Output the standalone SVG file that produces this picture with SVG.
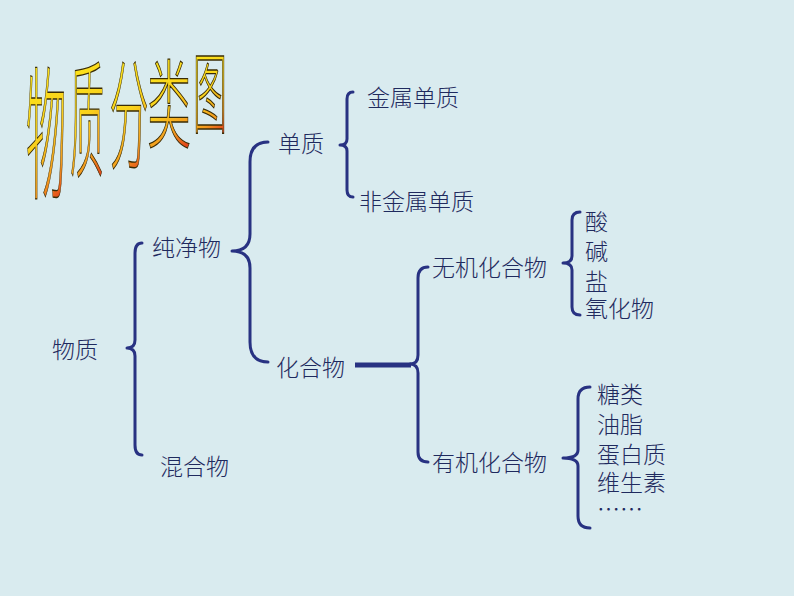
<svg xmlns="http://www.w3.org/2000/svg" width="794" height="596" viewBox="0 0 794 596">
<defs>
<linearGradient id="wa" x1="0" y1="0" x2="0.25" y2="1">
<stop offset="0" stop-color="#FFF21A"/>
<stop offset="0.6" stop-color="#F9D21C"/>
<stop offset="0.85" stop-color="#F39A1E"/>
<stop offset="1" stop-color="#E2441A"/>
</linearGradient>
<style>
.t{font-family:"Noto Sans CJK SC","Noto Sans CJK TC",sans-serif;font-size:23px;font-weight:300;fill:#1F2A5E;}
.w{font-family:"Noto Sans CJK SC",sans-serif;font-size:100px;font-weight:300;fill:url(#wa);stroke:#3A2C05;stroke-width:1;vector-effect:non-scaling-stroke;text-anchor:middle;}
.b{fill:none;stroke:#283282;stroke-width:3;stroke-linecap:round;stroke-linejoin:round;}
</style>
</defs>
<rect width="794" height="596" fill="#D9EBEF"/>
<g id="title">
<text class="w" transform="translate(46,188) scale(0.40,1.44)">物</text>
<text class="w" transform="translate(87,168) scale(0.34,1.28)">质</text>
<text class="w" transform="translate(129,160) scale(0.39,1.20)">分</text>
<text class="w" transform="translate(169,140) scale(0.44,0.97)">类</text>
<text class="w" transform="translate(210,126) scale(0.34,0.89)">图</text>
</g>
<g id="connectors">
<path class="b" d="M142,243 Q135,243 135,253 L135,340 Q135,348 127,348 Q135,348 135,356 L135,445 Q135,455 142,455"/>
<path class="b" d="M268,142 Q250,142 250,162 L250,234 Q250,251 232,251 Q250,251 250,268 L250,342 Q250,362 268,362"/>
<path class="b" d="M353,92 Q347,92 347,99 L347,139 Q347,145 340,145 Q347,145 347,151 L347,190 Q347,197 353,197"/>
<path class="b" style="stroke-width:5;stroke-linecap:butt" d="M355,365 L411,365"/>
<path class="b" d="M428,267 Q418,267 418,278 L418,355 Q418,364 410,364 Q418,364 418,373 L418,452 Q418,462 428,462"/>
<path class="b" d="M580,212 Q572,212 572,220 L572,256 Q572,263 563,263 Q572,263 572,270 L572,307 Q572,315 580,315"/>
<path class="b" d="M590,387 Q578,387 578,399 L578,450 Q578,458 563,458 Q578,458 578,466 L578,516 Q578,528 590,528"/>
</g>
<g id="n-wuzhi"><text class="t" x="52" y="358">物质</text></g>
<g id="n-chunjingwu"><text class="t" x="152" y="256">纯净物</text></g>
<g id="n-hunhewu"><text class="t" x="160" y="475">混合物</text></g>
<g id="n-danzhi"><text class="t" x="278" y="152">单质</text></g>
<g id="n-huahewu"><text class="t" x="276" y="376">化合物</text></g>
<g id="n-jinshu"><text class="t" x="367" y="106">金属单质</text></g>
<g id="n-feijinshu"><text class="t" x="359" y="210">非金属单质</text></g>
<g id="n-wuji"><text class="t" x="432" y="276">无机化合物</text></g>
<g id="n-youji"><text class="t" x="432" y="471">有机化合物</text></g>
<g id="n-wuji-list">
<text class="t" x="585" y="230">酸</text>
<text class="t" x="585" y="260">碱</text>
<text class="t" x="585" y="290">盐</text>
<text class="t" x="585" y="317">氧化物</text>
</g>
<g id="n-youji-list">
<text class="t" x="597" y="403">糖类</text>
<text class="t" x="597" y="433">油脂</text>
<text class="t" x="597" y="463">蛋白质</text>
<text class="t" x="597" y="491">维生素</text>
<text class="t" x="597" y="518">……</text>
</g>
</svg>
